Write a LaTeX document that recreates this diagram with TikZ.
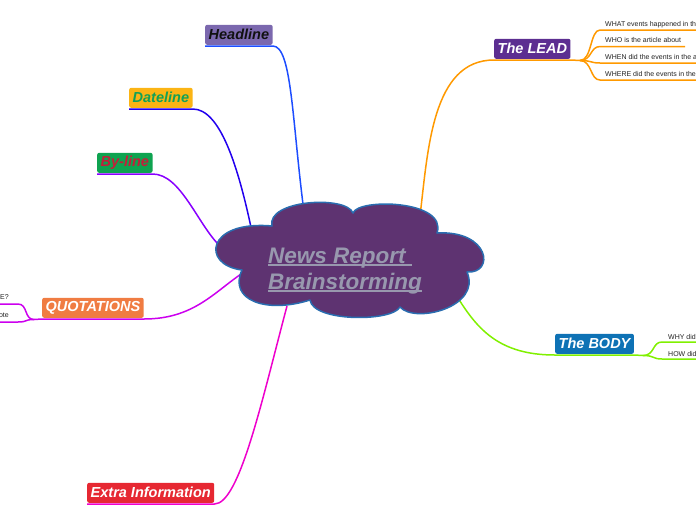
\documentclass[tikz,border=0pt]{standalone}
\usepackage{fontspec}
\setmainfont{Liberation Sans}
\usepackage{tikz}
\usetikzlibrary{calc}
\definecolor{cloudfill}{HTML}{5E3371}
\definecolor{cloudline}{HTML}{2A6DB0}
\definecolor{titlecol}{HTML}{9898AE}
\definecolor{headfill}{HTML}{7B68AE}
\definecolor{headtext}{HTML}{111111}
\definecolor{headcol}{HTML}{1D4DFF}
\definecolor{datefill}{HTML}{FBB414}
\definecolor{datetext}{HTML}{12A156}
\definecolor{datecol}{HTML}{2200EE}
\definecolor{byfill}{HTML}{0EA350}
\definecolor{bytext}{HTML}{C41E3A}
\definecolor{bycol}{HTML}{8800FF}
\definecolor{quotefill}{HTML}{F07C42}
\definecolor{quotecol}{HTML}{CC00EE}
\definecolor{extrafill}{HTML}{E62832}
\definecolor{extracol}{HTML}{EE00CC}
\definecolor{leadfill}{HTML}{5C2E91}
\definecolor{leadcol}{HTML}{FF9900}
\definecolor{bodyfill}{HTML}{0E72B5}
\definecolor{bodycol}{HTML}{80F000}
\definecolor{leaftext}{HTML}{222222}
\newcommand{\titleul}[1]{\setbox0\hbox{#1}\rlap{\rule[-2.5pt]{\wd0}{1.3pt}}\box0}

\begin{document}
\begin{tikzpicture}[x=1pt, y=-1pt,
    topic/.style={rounded corners=2pt, inner xsep=3.5pt, inner ysep=0pt, minimum height=20pt, anchor=south west, font=\fontsize{14.5}{16}\selectfont\bfseries\itshape},
    branch/.style={line width=1.5pt},
    leaf/.style={inner sep=0pt, anchor=base west, text=leaftext, font=\fontsize{7}{8}\selectfont}]
    \useasboundingbox (0,0) rectangle (696,520);
    % points where the branches meet the cloud
    \coordinate (hd) at (304,212);
    \coordinate (dt) at (252,232);
    \coordinate (by) at (220,246);
    \coordinate (qu) at (244,272);
    \coordinate (ex) at (287,306);
    \coordinate (ld) at (420,216);
    \coordinate (bd) at (458,298);
    \coordinate (leadfork) at (580,60.5);
    \coordinate (bodyfork) at (643,355.5);
    \coordinate (qfork) at (34,319.5);
    %
    \node[topic, fill=headfill, text=headtext] (headline) at (205,45) {Headline};
    \node[topic, fill=datefill, text=datetext] (dateline) at (129,108) {Dateline};
    \node[topic, fill=byfill, text=bytext] (byline) at (97,173) {By-line};
    \node[topic, fill=quotefill, text=white] (quotes) at (42,318) {QUOTATIONS};
    \node[topic, fill=extrafill, text=white] (extra) at (87,503) {Extra Information};
    \node[topic, fill=leadfill, text=white] (lead) at (494,59) {The LEAD};
    \node[topic, fill=bodyfill, text=white] (body) at (555,354) {The BODY};
    %
    \node[leaf] (what) at (605,26) {WHAT events happened in th};
    \node[leaf] (who) at (605,42.5) {WHO is the article about};
    \node[leaf] (when) at (605,59) {WHEN did the events in the a};
    \node[leaf] (where) at (605,76) {WHERE did the events in the};
    \node[leaf] (why) at (668,339) {WHY did};
    \node[leaf] (how) at (668,356) {HOW did};
    \node[leaf, anchor=base east] (qwho) at (9,299) {E?};
    \node[leaf, anchor=base east] (qote) at (9,317) {ote};
    %
    \draw[branch, headcol] ([yshift=-1pt]headline.south west) -- ([yshift=-1pt]headline.south east) .. controls +(19,0) and +(-12,-92) .. (hd);
    \draw[branch, datecol] ([yshift=-1pt]dateline.south west) -- ([yshift=-1pt]dateline.south east) .. controls +(27,0) and +(-14,-67) .. (dt);
    \draw[branch, bycol] ([yshift=-1pt]byline.south west) -- ([yshift=-1pt]byline.south east) .. controls +(28,0) and +(-22,-21) .. (by);
    \draw[branch, quotecol] (qfork) -- ([yshift=-1pt]quotes.south west) -- ([yshift=-1pt]quotes.south east) .. controls +(50,0) and +(-30,20) .. (qu);
    \draw[branch, extracol] ([yshift=-1pt]extra.south west) -- ([yshift=-1pt]extra.south east) .. controls +(25,0) and +(-25,94) .. (ex);
    \draw[branch, leadcol] (ld) .. controls +(8,-66) and +(-62,0) .. ([yshift=-1pt]lead.south west) -- ([yshift=-1pt]lead.south east) -- (leadfork);
    \draw[branch, bodycol] (bd) .. controls +(20,32) and +(-55,0) .. ([yshift=-1pt]body.south west) -- ([yshift=-1pt]body.south east) -- (bodyfork);
    %
    \draw[branch, leadcol] (leadfork) .. controls +(12,0) and +(-10,0) .. ($(what.base west)+(-5,4)$) -- ++(96,0);
    \draw[branch, leadcol] (leadfork) .. controls +(12,0) and +(-10,0) .. ($(who.base west)+(-5,4)$) -- ++(85,0);
    \draw[branch, leadcol] (leadfork) .. controls +(12,0) and +(-10,0) .. ($(when.base west)+(-5,4)$) -- ++(96,0);
    \draw[branch, leadcol] (leadfork) .. controls +(12,0) and +(-10,0) .. ($(where.base west)+(-5,4)$) -- ++(96,0);
    \draw[branch, bodycol] (bodyfork) .. controls +(12,0) and +(-10,0) .. ($(why.base west)+(-6,3)$) -- ++(40,0);
    \draw[branch, bodycol] (bodyfork) .. controls +(12,0) and +(-10,0) .. ($(how.base west)+(-6,3)$) -- ++(40,0);
    \draw[branch, quotecol] (qfork) .. controls +(-10,0) and +(10,0) .. ($(qwho.base east)+(9,5)$) -- ++(-20,0);
    \draw[branch, quotecol] (qfork) .. controls +(-10,0) and +(10,0) .. ($(qote.base east)+(9,5)$) -- ++(-20,0);
    %
    \draw[cloudline, fill=cloudfill, line width=1.5pt, line join=round] (272,226) .. controls (266,200) and (346,195) .. (353,213)
        .. controls (358,198) and (448,200) .. (437,233)
        .. controls (490,230) and (495,274) .. (467,272)
        .. controls (482,307) and (415,324) .. (400,307)
        .. controls (392,322) and (313,322) .. (310,300)
        .. controls (266,314) and (228,300) .. (242,270)
        .. controls (201,265) and (206,220) .. (272,226) -- cycle;
    \node[anchor=north west, inner sep=0pt, align=left, text=titlecol, font=\fontsize{22.5}{26}\selectfont\bfseries\itshape] (title) at (268,247.5) {\titleul{News Report\ }\\\titleul{Brainstorming}};
\end{tikzpicture}
\end{document}
